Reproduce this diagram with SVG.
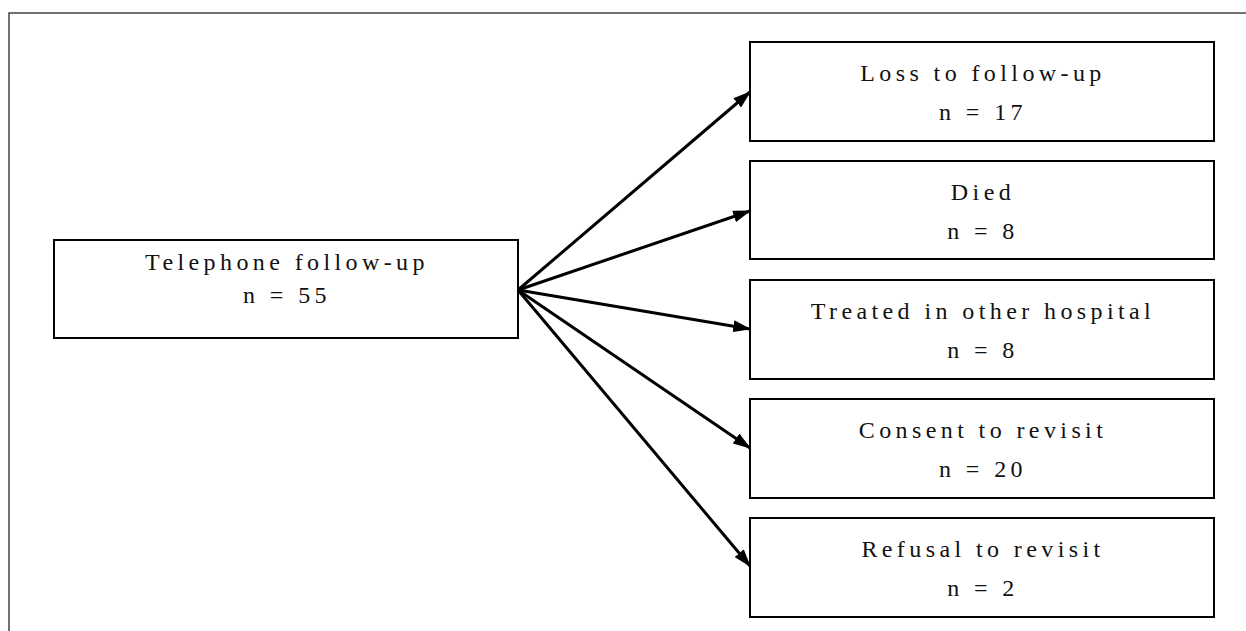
<svg xmlns="http://www.w3.org/2000/svg" width="1246" height="631" viewBox="0 0 1246 631">
<style>
.box{fill:#fff;stroke:#000;stroke-width:2}
.t{font-family:"Liberation Serif","Times New Roman",serif;font-size:24px;letter-spacing:4.4px;text-anchor:middle;fill:#111}
.c{stroke:#000;stroke-width:3;fill:none}
</style>
<defs>
<marker id="ah" markerWidth="6" markerHeight="4" refX="5.6" refY="2" orient="auto" markerUnits="strokeWidth">
<path d="M0,0 L6,2 L0,4 Z" fill="#000"/>
</marker>
</defs>
<rect x="9" y="13" width="1300" height="700" fill="none" stroke="#444" stroke-width="1.5"/>
<g id="connectors">
<line class="c" x1="518" y1="290" x2="750" y2="92" marker-end="url(#ah)"/>
<line class="c" x1="518" y1="290" x2="750" y2="211" marker-end="url(#ah)"/>
<line class="c" x1="518" y1="290" x2="750" y2="329" marker-end="url(#ah)"/>
<line class="c" x1="518" y1="290" x2="750" y2="448" marker-end="url(#ah)"/>
<line class="c" x1="518" y1="290" x2="750" y2="566" marker-end="url(#ah)"/>
</g>
<g id="telephone">
<rect class="box" x="54" y="240" width="464" height="98"/>
<text class="t" x="287" y="270">Telephone follow-up</text>
<text class="t" x="287" y="303">n = 55</text>
</g>
<g id="loss">
<rect class="box" x="750" y="42" width="464" height="99"/>
<text class="t" x="983" y="81">Loss to follow-up</text>
<text class="t" x="983" y="120">n = 17</text>
</g>
<g id="died">
<rect class="box" x="750" y="161" width="464" height="98"/>
<text class="t" x="983" y="200">Died</text>
<text class="t" x="983" y="239">n = 8</text>
</g>
<g id="treated">
<rect class="box" x="750" y="280" width="464" height="99"/>
<text class="t" x="983" y="319">Treated in other hospital</text>
<text class="t" x="983" y="358">n = 8</text>
</g>
<g id="consent">
<rect class="box" x="750" y="399" width="464" height="99"/>
<text class="t" x="983" y="438">Consent to revisit</text>
<text class="t" x="983" y="477">n = 20</text>
</g>
<g id="refusal">
<rect class="box" x="750" y="518" width="464" height="99"/>
<text class="t" x="983" y="557">Refusal to revisit</text>
<text class="t" x="983" y="596">n = 2</text>
</g>
</svg>
